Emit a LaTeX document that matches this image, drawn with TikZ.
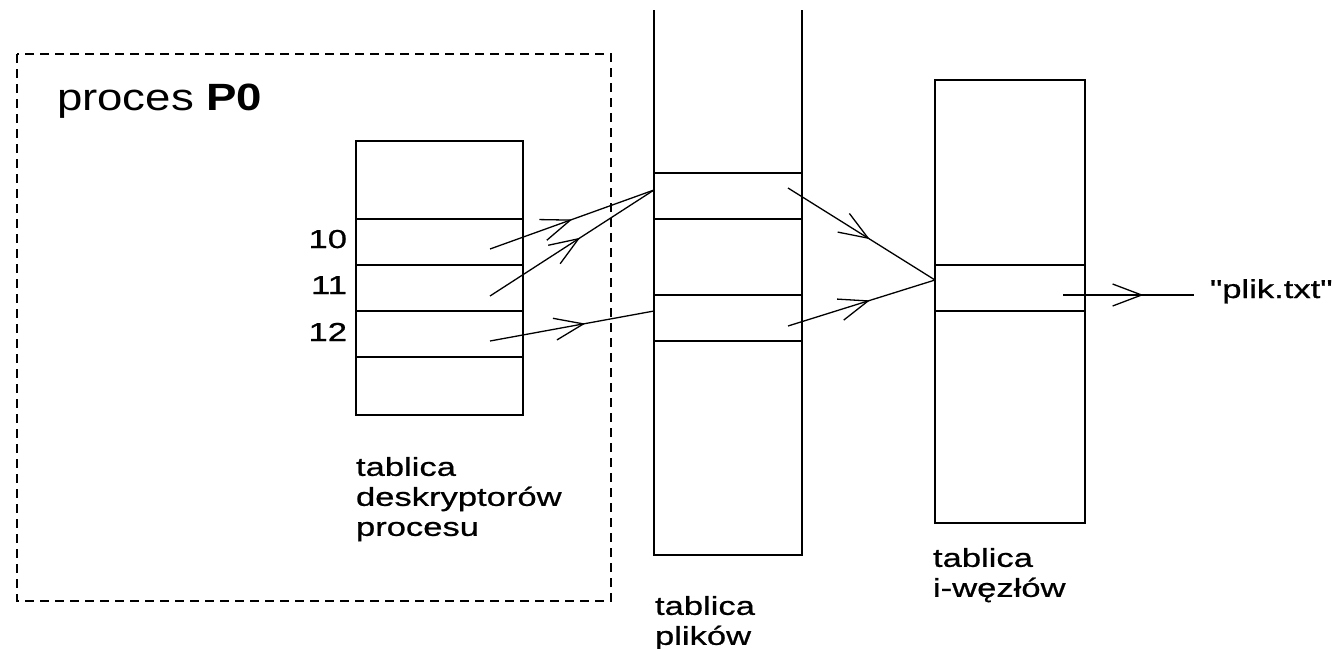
\documentclass[tikz,border=0pt]{standalone}
\usepackage{fontspec}
\setmainfont{Liberation Sans}
\newfontfamily\smallwide[FakeStretch=1.33,FakeBold=0.8]{Liberation Sans}
\newfontfamily\bigwide[FakeStretch=1.2]{Liberation Sans}
\usetikzlibrary{decorations.markings}
\tikzset{
  tbl/.style={line width=1.7pt},
  frame/.style={line width=1.7pt, dash pattern=on 9pt off 6pt},
  lbl/.style={inner sep=0pt, outer sep=0pt, font=\smallwide\fontsize{26}{30}\selectfont},
  biglbl/.style={inner sep=0pt, outer sep=0pt, font=\bigwide\fontsize{38}{44}\selectfont},
  ptr/.style={line width=1.3pt, postaction={decorate},
    decoration={markings, mark=at position #1 with {\draw[line width=1.3pt] (-29pt,11pt) -- (0pt,0pt) -- (-29pt,-11pt);}}},
  ptr/.default=0.55
}
\begin{document}
\begin{tikzpicture}[x=1pt,y=-1pt]
\useasboundingbox (0,0) rectangle (1340,648);
% process frame
\draw[frame] (17,54) rectangle (611,601);
\node[biglbl, anchor=base west] (title) at (57,110) {proces \textbf{P0}};
% descriptor table
\draw[tbl] (356,141) rectangle (523,415);
\foreach \yy in {219,265,311,357} \draw[tbl] (356,\yy) -- (523,\yy);
\node[lbl, anchor=base east] (n10) at (347,248) {10};
\node[lbl, anchor=base east] (n11) at (347,294) {11};
\node[lbl, anchor=base east] (n12) at (347,341) {12};
\node[lbl, anchor=north west, align=left] (ldesc) at (356,457) {tablica\\deskryptorów\\procesu};
% file table
\draw[tbl] (654,10) -- (654,555) -- (802,555) -- (802,10);
\foreach \yy in {173,219,295,341} \draw[tbl] (654,\yy) -- (802,\yy);
\node[lbl, anchor=north west, align=left] (lfile) at (655,596) {tablica\\plików};
% inode table
\draw[tbl] (935,80) rectangle (1085,523);
\foreach \yy in {265,311} \draw[tbl] (935,\yy) -- (1085,\yy);
\node[lbl, anchor=north west, align=left] (linode) at (933,548) {tablica\\i-węzłów};
\node[lbl, anchor=base west] (fname) at (1210,298) {"plik.txt"};
% connector end points
\coordinate (s10) at (490,249);
\coordinate (s11) at (490,296);
\coordinate (s12) at (490,341);
\coordinate (t1) at (654,190);
\coordinate (t2) at (654,311);
\coordinate (s21) at (788,188);
\coordinate (s22) at (788,326);
\coordinate (ti) at (935,280);
\coordinate (s3) at (1063,295);
\coordinate (e3) at (1194,295);
% connectors
\draw[ptr=0.49] (s10) -- (t1);
\draw[ptr=0.54] (s11) -- (t1);
\draw[ptr=0.57] (s12) -- (t2);
\draw[ptr=0.545] (s21) -- (ti);
\draw[ptr=0.545] (s22) -- (ti);
\draw[ptr=0.6] (s3) -- (e3);
\end{tikzpicture}
\end{document}
